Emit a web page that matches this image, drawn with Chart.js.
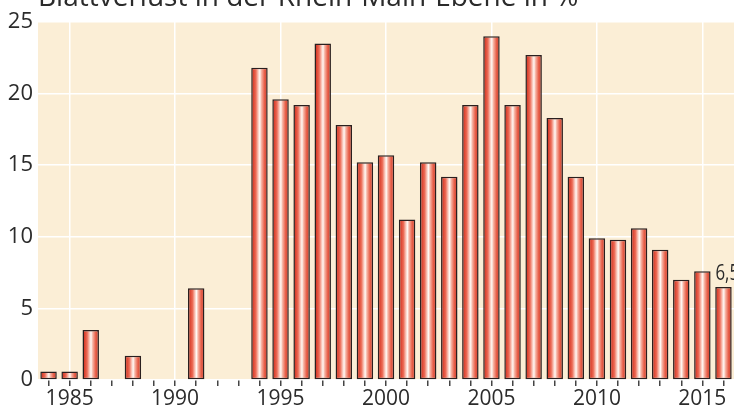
<!DOCTYPE html>
<html>
<head>
<meta charset="utf-8">
<script src="https://cdn.jsdelivr.net/npm/chart.js@4/dist/chart.umd.min.js"></script>
<style>
  html, body { margin: 0; padding: 0; background: #ffffff; }
  #wrap { width: 734px; height: 412px; position: relative; }
</style>
</head>
<body>
<div id="wrap"><canvas id="c" width="734" height="412"></canvas></div>
<script>
const TITLE = "Blattverlust in der Rhein-Main-Ebene in %";
const YEARS = ["1984","1985","1986","1987","1988","1989","1990","1991","1992","1993","1994","1995","1996","1997","1998","1999","2000","2001","2002","2003","2004","2005","2006","2007","2008","2009","2010","2011","2012","2013","2014","2015","2016"];
const VALUES = [0.6,0.6,3.5,0,1.7,0,0,6.4,0,0,21.8,19.6,19.2,23.5,17.8,15.2,15.7,11.2,15.2,14.2,19.2,24.0,19.2,22.7,18.3,14.2,9.9,9.8,10.6,9.1,7.0,7.6,6.5];
const Y_TICKS = [0,5,10,15,20,25];
const LABELED_POINT = "2016";
const LABELED_TEXT = "6,5";

const FONT = "'Open Sans', 'DejaVu Sans', sans-serif";
const BAR_PCT = 0.78;

const bgPlugin = {
  id: 'bg',
  beforeDraw(chart) {
    const {ctx, chartArea: a} = chart;
    ctx.save();
    ctx.fillStyle = '#fbeed6';
    ctx.fillRect(a.left, a.top, a.right - a.left, a.bottom - a.top);
    ctx.restore();
  },
  afterDraw(chart) {
    const {ctx} = chart;
    ctx.save();
    ctx.fillStyle = '#2b2b2b';
    ctx.font = "28px " + FONT;
    ctx.textAlign = 'left';
    ctx.textBaseline = 'alphabetic';
    ctx.fillText(TITLE, 38, 6);
    const idx = YEARS.indexOf(LABELED_POINT);
    const x = chart.scales.x.getPixelForValue(idx);
    const y = chart.scales.y.getPixelForValue(VALUES[idx]);
    ctx.font = "21px " + FONT;
    ctx.translate(x - 8, y - 7);
    ctx.scale(0.8, 1);
    ctx.fillText(LABELED_TEXT, 0, 0);
    ctx.restore();
  }
};

function barGradient(context) {
  const chart = context.chart;
  if (!chart.chartArea || !chart.scales.x) return '#e0503a';
  const xs = chart.scales.x;
  const cx = xs.getPixelForValue(context.dataIndex);
  const w = (chart.chartArea.right - chart.chartArea.left) / YEARS.length * BAR_PCT;
  const g = chart.ctx.createLinearGradient(cx - w / 2, 0, cx + w / 2, 0);
  g.addColorStop(0.0, '#a82a20');
  g.addColorStop(0.12, '#d9402e');
  g.addColorStop(0.28, '#ec6a55');
  g.addColorStop(0.45, '#fbd6cc');
  g.addColorStop(0.52, '#fff8f4');
  g.addColorStop(0.62, '#f6b4a4');
  g.addColorStop(0.80, '#e8604a');
  g.addColorStop(1.0, '#c93a2a');
  return g;
}

new Chart(document.getElementById('c'), {
  type: 'bar',
  data: {
    labels: YEARS,
    datasets: [{
      data: VALUES,
      backgroundColor: barGradient,
      borderColor: '#2a1f1f',
      borderWidth: 1.5,
      borderSkipped: false,
      categoryPercentage: 1,
      barPercentage: BAR_PCT
    }]
  },
  options: {
    responsive: false,
    animation: false,
    devicePixelRatio: 1,
    layout: { padding: { top: 22, right: 0, left: 0, bottom: 0 } },
    plugins: { legend: { display: false }, tooltip: { enabled: false }, title: { display: false } },
    scales: {
      x: {
        offset: true,
        border: { display: false },
        grid: {
          offset: false,
          drawTicks: true,
          tickLength: 6,
          tickColor: '#444444',
          lineWidth: 1.5,
          color: (c) => (c.tick && Number(YEARS[c.index]) % 5 === 0) ? '#ffffff' : 'rgba(0,0,0,0)'
        },
        ticks: {
          autoSkip: false,
          maxRotation: 0,
          padding: 0,
          color: '#2b2b2b',
          font: { family: FONT, size: 21 },
          callback: (v, i) => (Number(YEARS[i]) % 5 === 0) ? YEARS[i] : ''
        },
        afterFit: (s) => { s.height = 32; }
      },
      y: {
        min: 0,
        max: 25,
        border: { display: false },
        grid: { color: '#ffffff', lineWidth: 1.5, drawTicks: false },
        afterBuildTicks: (s) => { s.ticks = Y_TICKS.map(v => ({ value: v })); },
        ticks: {
          padding: 5,
          color: '#2b2b2b',
          font: { family: FONT, size: 22 }
        },
        afterFit: (s) => { s.width = 38; }
      }
    }
  },
  plugins: [bgPlugin]
});
</script>
</body>
</html>
